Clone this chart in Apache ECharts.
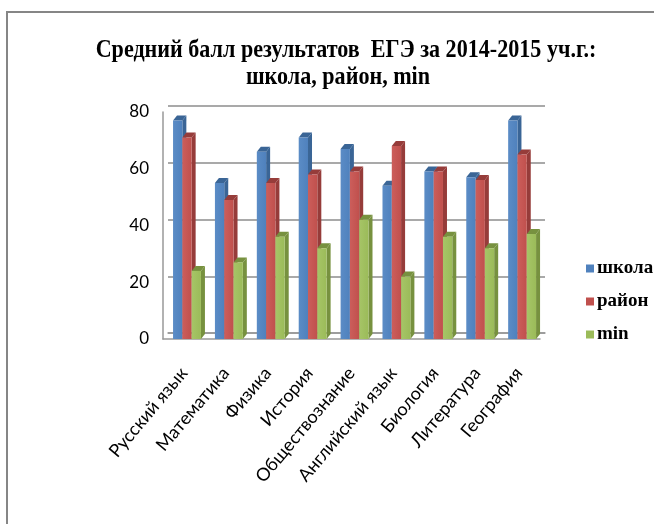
<!DOCTYPE html>
<html><head><meta charset="utf-8">
<script src="https://cdn.jsdelivr.net/npm/echarts@6/dist/echarts.min.js"></script>
<style>html,body{margin:0;padding:0;background:#fff}#c{width:654px;height:524px}</style>
</head><body><div id="c"></div>
<script>
const categories = ['Русский язык','Математика','Физика','История','Обществознание','Английский язык','Биология','Литература','География'];
const school = [77, 55, 66, 71, 67, 54, 59, 57, 77];
const district = [71, 49, 55, 58, 59, 68, 59, 56, 65];
const minimum = [24, 27, 36, 32, 42, 22, 36, 32, 37];
const yTicks = [0, 20, 40, 60, 80];
const seriesNames = ['школа','район','min'];
const titleLines = ['Средний балл результатов  ЕГЭ за 2014-2015 уч.г.:', 'школа, район, min'];

const front = ['#4F81BD','#C0504D','#9BBB59'];
const side = ['#3A6596','#963C3A','#77913F'];
const top_ = ['#5B8CC6','#CC5E5B','#A6C567'];
const BW = 9.3, DX = 4, DY = 5, START = -10.9;

function makeRender(k){
  return function(params, api){
    const idx = api.value(0), v = api.value(1);
    const pTop = api.coord([idx, v]);
    const pBot = api.coord([idx, 0]);
    const x0 = pTop[0] + START + k*BW, x1 = x0 + BW;
    const yt = pTop[1], yb = pBot[1];
    return {type:'group', children:[
      {type:'polygon', shape:{points:[[x1,yt],[x1+DX,yt-DY],[x1+DX,yb-DY],[x1,yb]]}, style:{fill:side[k]}},
      {type:'polygon', shape:{points:[[x0,yt],[x0+DX,yt-DY],[x1+DX,yt-DY],[x1,yt]]}, style:{fill:side[k]}},
      {type:'rect', shape:{x:x0, y:yt, width:BW, height:yb-yt}, style:{fill:{type:'linear',x:0,y:0,x2:1,y2:0,colorStops:[{offset:0,color:top_[k]},{offset:1,color:front[k]}]}}}
    ]};
  };
}
const allVals = [school, district, minimum];
const series = allVals.map((arr,k)=>({
  name: seriesNames[k], type:'custom', xAxisIndex:1, yAxisIndex:1,
  itemStyle:{color:front[k]},
  renderItem: makeRender(k),
  encode:{x:0,y:1},
  data: arr.map((v,i)=>[i,v])
}));

const titleFont = 'bold 26px "Liberation Serif"';
const chart = echarts.init(document.getElementById('c'), null, {renderer:'canvas'});
chart.setOption({
  animation:false,
  backgroundColor:'#fff',
  legend:{
    orient:'vertical', left:581, top:254, itemWidth:8, itemHeight:8, itemGap:14,
    icon:'rect',
    data: seriesNames,
    textStyle:{fontFamily:'Liberation Serif', fontWeight:'bold', fontSize:19, color:'#000', padding:[0,0,0,-2]}
  },
  graphic:[
    {type:'rect', shape:{x:7,y:12,width:800,height:800}, style:{fill:'none', stroke:'#868686', lineWidth:2}, z:-1},
    {type:'text', x:346, y:37, scaleX:0.85, style:{text:titleLines[0], font:titleFont, fill:'#000', textAlign:'center', textVerticalAlign:'top'}},
    {type:'text', x:338, y:64, scaleX:0.85, style:{text:titleLines[1], font:titleFont, fill:'#000', textAlign:'center', textVerticalAlign:'top'}}
  ],
  grid:[
    {left:168, right:109, top:106, bottom:191},
    {left:163, right:114, top:112, bottom:185}
  ],
  xAxis:[
    {type:'category', gridIndex:0, data:categories, axisLine:{show:true, lineStyle:{color:'#999', width:1.5}}, axisTick:{show:false}, axisLabel:{show:false}},
    {type:'category', gridIndex:1, data:categories, axisLine:{show:true, lineStyle:{color:'#999', width:1.5}}, axisTick:{show:false},
     axisLabel:{rotate:50, margin:31, interval:0, fontFamily:'Lato', fontSize:18, color:'#000'}}
  ],
  yAxis:[
    {type:'value', gridIndex:0, min:yTicks[0], max:yTicks[yTicks.length-1], interval:20, axisLine:{show:false}, axisTick:{show:false}, axisLabel:{show:false},
     splitLine:{show:true, lineStyle:{color:'#8c8c8c', width:1.5}}},
    {type:'value', gridIndex:1, min:yTicks[0], max:yTicks[yTicks.length-1], interval:20, axisLine:{show:true, lineStyle:{color:'#999', width:1.5}}, axisTick:{show:false},
     splitLine:{show:false}, axisLabel:{margin:14, fontFamily:'Lato', fontSize:17, color:'#000'}}
  ],
  series: series
});
</script>
</body></html>
